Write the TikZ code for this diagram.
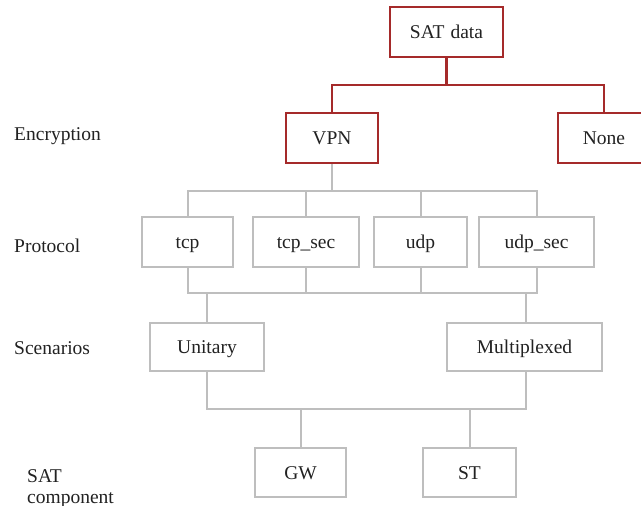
\documentclass[tikz,border=0pt]{standalone}
\usepackage{fontspec}
\setmainfont{Liberation Serif}
\definecolor{boxred}{HTML}{A52A2A}
\definecolor{boxgray}{HTML}{BEBEBE}
\definecolor{txt}{HTML}{222222}
\begin{document}
\begin{tikzpicture}[x=1pt,y=-1pt,
  boxtext/.style={inner sep=0pt,text=txt,font=\fontsize{19.5}{22}\selectfont,text height=13pt,text depth=0pt},
  redbox/.style={boxtext,draw=boxred,line width=2.4pt,fill=white},
  graybox/.style={boxtext,draw=boxgray,line width=2pt,fill=white},
  redline/.style={draw=boxred,line width=2.4pt},
  grayline/.style={draw=boxgray,line width=2pt},
  lbl/.style={anchor=base west,inner sep=0pt,text=txt,font=\fontsize{19.5}{22}\selectfont}]
\clip (0,0) rectangle (641,506);
\fill[white] (0,0) rectangle (641,506);
% nodes
\node[redbox,minimum width=113pt,minimum height=50pt] (sat) at (446.5,32) {SAT\hspace{6pt}data};
\node[redbox,minimum width=92pt,minimum height=50pt] (vpn) at (332,138) {VPN};
\node[redbox,minimum width=92pt,minimum height=50pt] (none) at (604,138) {None};
\node[graybox,minimum width=91pt,minimum height=50pt] (tcp) at (187.5,242) {tcp};
\node[graybox,minimum width=106pt,minimum height=50pt] (tcpsec) at (306,242) {tcp\_sec};
\node[graybox,minimum width=93pt,minimum height=50pt] (udp) at (420.5,242) {udp};
\node[graybox,minimum width=115pt,minimum height=50pt] (udpsec) at (536.5,242) {udp\_sec};
\node[graybox,minimum width=114pt,minimum height=48pt] (uni) at (207,347) {Unitary};
\node[graybox,minimum width=155pt,minimum height=48pt] (mux) at (524.5,347) {Multiplexed};
\node[graybox,minimum width=91pt,minimum height=49pt] (gw) at (300.5,472.5) {GW};
\node[graybox,minimum width=93pt,minimum height=49pt] (st) at (469.5,472.5) {ST};
% labels
\node[lbl] (lenc) at (14,140) {Encryption};
\node[lbl] (lpro) at (14,252) {Protocol};
\node[lbl] (lsce) at (14,354) {Scenarios};
\node[lbl] (lsat) at (27,482) {SAT};
\node[lbl] (lcomp) at (27,503) {component};
% level 1 connectors
\coordinate (j1) at (446.5,85);
\draw[redline] (sat.south) -- (j1);
\draw[redline] (vpn.north) -- (vpn.north |- j1) -- (none.north |- j1) -- (none.north);
% level 2
\coordinate (j2) at (332,191);
\draw[grayline] (vpn.south) -- (j2);
\draw[grayline] (tcp.north) -- (tcp.north |- j2) -- (udpsec.north |- j2) -- (udpsec.north);
\draw[grayline] (tcpsec.north) -- (tcpsec.north |- j2);
\draw[grayline] (udp.north) -- (udp.north |- j2);
% level 3
\coordinate (j3) at (332,293);
\draw[grayline] (tcp.south) -- (tcp.south |- j3) -- (udpsec.south |- j3) -- (udpsec.south);
\draw[grayline] (tcpsec.south) -- (tcpsec.south |- j3);
\draw[grayline] (udp.south) -- (udp.south |- j3);
\draw[grayline] (uni.north) -- (uni.north |- j3);
\draw[grayline] (mux.north) ++(1.5,0) coordinate (muxtop) -- (muxtop |- j3);
% level 4
\coordinate (j4) at (332,409);
\draw[grayline] (uni.south) -- (uni.south |- j4) -- (muxtop |- j4) -- ([xshift=1.5pt]mux.south);
\draw[grayline] (gw.north) -- (gw.north |- j4);
\draw[grayline] (st.north) -- (st.north |- j4);
\end{tikzpicture}
\end{document}
